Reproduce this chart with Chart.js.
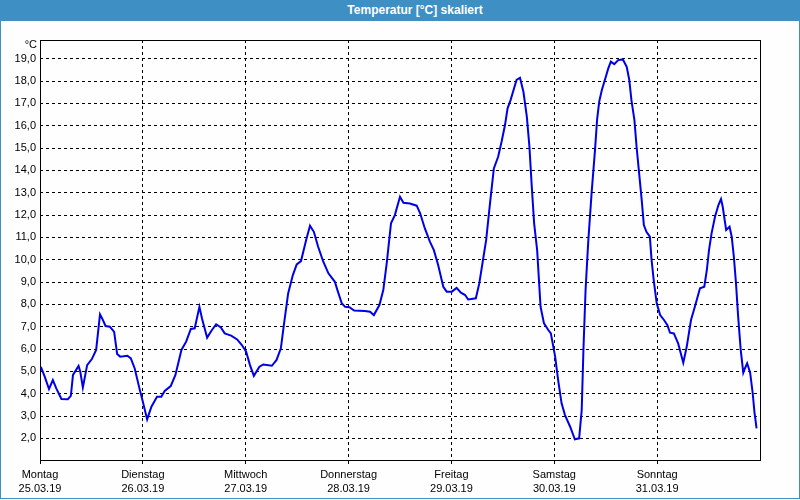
<!DOCTYPE html>
<html>
<head>
<meta charset="utf-8">
<script src="https://cdn.jsdelivr.net/npm/chart.js@4"></script>
<style>
  body { margin: 0; background: #fdfefd; }
  #wrap { position: relative; width: 800px; height: 500px; overflow: hidden; background: #fdfefd; }
  #title {
    position: absolute; left: 0; top: 0; width: 800px; height: 21px;
    background: #3d8fc4; color: #fff;
    font: bold 12px "Liberation Sans", Arial, sans-serif;
    line-height: 21px; text-align: center; box-sizing: border-box; padding-left: 30px;
  }
  #frame {
    position: absolute; left: 0; top: 0; width: 800px; height: 499px;
    box-sizing: border-box; border: 1px solid #3d8fc4; border-top: none; pointer-events: none;
  }
  #cv { position: absolute; left: 0; top: 20px; }
</style>
</head>
<body>
<div id="wrap">
  <div id="title">Temperatur [°C] skaliert</div>
  <canvas id="cv" width="800" height="480"></canvas>
  <div id="frame"></div>
</div>
<script>
// =========================
// DATA
// =========================
const dayNames = ["Montag", "Dienstag", "Mittwoch", "Donnerstag", "Freitag", "Samstag", "Sonntag"];
const dayDates = ["25.03.19", "26.03.19", "27.03.19", "28.03.19", "29.03.19", "30.03.19", "31.03.19"];
const yTicks = [2, 3, 4, 5, 6, 7, 8, 9, 10, 11, 12, 13, 14, 15, 16, 17, 18, 19];

// hours since Monday 00:00
const hours = [
    0.2, 1.1, 2.1, 3.0, 3.8, 5.0, 6.5, 7.2, 7.7, 9.0, 9.4, 10.0, 11.0, 12.1, 13.1, 14.0, 14.5, 15.3, 16.3, 17.3,
    18.0, 18.7, 20.4, 21.2, 22.1, 23.3, 24.0, 25.0, 26.0, 27.3, 28.3, 29.1, 30.5, 31.6, 33.0, 34.1, 35.2, 36.1,
    37.2, 37.8, 39.0, 40.0, 41.1, 42.2, 43.1, 44.6, 46.0, 47.1, 48.1, 49.0, 49.9, 51.2, 52.1, 54.1, 55.2, 56.2,
    56.9, 57.9, 59.0, 59.9, 60.9, 62.1, 63.0, 63.9, 64.9, 66.1, 67.3, 68.8, 69.4, 70.4, 71.2, 72.2, 73.3, 75.8,
    77.0, 77.9, 79.2, 80.1, 80.9, 81.9, 82.8, 84.0, 84.8, 86.3, 87.9, 88.7, 89.8, 91.0, 91.9, 92.9, 94.1, 94.9,
    96.1, 97.2, 98.2, 99.2, 99.9, 101.7, 102.5, 103.3, 104.1, 105.0, 105.9, 106.9, 107.7, 108.5, 109.1, 109.8,
    110.6, 111.2, 112.0, 112.8, 113.6, 114.2, 114.7, 115.3, 116.0, 116.8, 117.6, 118.6, 119.2, 120.2, 120.9,
    121.7, 122.5, 123.7, 124.8, 125.8, 126.4, 126.8, 127.3, 127.9, 128.7, 129.5, 130.0, 130.5, 131.1, 131.8,
    132.6, 133.2, 134.0, 134.9, 136.0, 136.9, 137.5, 138.0, 138.7, 139.2, 139.8, 140.4, 140.9, 141.5, 142.3,
    142.7, 143.2, 143.9, 144.7, 145.6, 146.4, 147.0, 147.9, 148.9, 150.1, 150.9, 151.9, 152.8, 154.0, 155.0,
    155.6, 156.1, 156.7, 157.5, 158.3, 158.9, 159.3, 160.1, 160.9, 161.4, 161.9, 162.4, 162.9, 163.5, 164.1,
    164.5, 165.0, 165.7, 166.3, 166.7, 167.2
];
const temps = [
    5.2, 4.76, 4.21, 4.61, 4.24, 3.76, 3.75, 3.9, 4.84, 5.24, 4.98, 4.28, 5.28, 5.55, 5.96, 7.55, 7.37, 7.03, 7.0, 6.77,
    5.78, 5.66, 5.70, 5.58, 5.13, 4.16, 3.64, 2.85, 3.42, 3.86, 3.86, 4.12, 4.34, 4.84, 5.96, 6.33, 6.90, 6.93,
    7.89, 7.37, 6.51, 6.82, 7.11, 6.97, 6.70, 6.60, 6.43, 6.18, 5.88, 5.28, 4.80, 5.21, 5.31, 5.25, 5.51, 6.03,
    7.07, 8.49, 9.31, 9.79, 9.94, 10.88, 11.52, 11.25, 10.58, 9.91, 9.39, 9.01, 8.64, 8.05, 7.89, 7.87, 7.72, 7.70,
    7.67, 7.52, 7.97, 8.64, 9.84, 11.63, 12.0, 12.82, 12.55, 12.52, 12.42, 12.08, 11.40, 10.80, 10.43, 9.76, 8.79, 8.57,
    8.57, 8.74, 8.52, 8.42, 8.22, 8.27, 8.94, 9.91, 10.88, 12.52, 14.09, 14.61, 15.28, 16.03, 16.78, 17.15,
    17.67, 18.05, 18.15, 17.52, 16.40, 15.06, 13.42, 11.63, 10.43, 7.89, 7.15, 6.85, 6.70, 5.66, 4.61,
    3.57, 3.04, 2.52, 1.96, 2.0, 3.27, 5.96, 8.64, 10.73, 12.97, 14.91, 16.3, 17.1, 17.6, 18.05,
    18.57, 18.87, 18.76, 18.94, 18.97, 18.64, 18.05, 17.15, 16.25, 15.06, 13.87, 12.67, 11.55, 11.25, 11.03,
    9.99, 9.09, 8.05, 7.52, 7.30, 7.07, 6.73, 6.70, 6.25, 5.39, 6.10, 7.30, 7.89, 8.72, 8.79,
    9.54, 10.43, 11.18, 11.92, 12.45, 12.72, 12.37, 11.33, 11.48, 11.03, 10.13, 8.94, 7.45, 5.96, 4.94,
    5.14, 5.36, 4.94, 4.02, 3.19, 2.45
];

// =========================
// PLUGINS
// =========================
const frameBox = {
    id: "frameBox",
    beforeDatasetsDraw(chart) {
        const a = chart.chartArea;
        const ctx = chart.ctx;
        ctx.save();
        ctx.strokeStyle = "#000";
        ctx.lineWidth = 1;
        ctx.strokeRect(Math.round(a.left) + 0.5, Math.round(a.top) + 0.5,
                       Math.round(a.right - a.left), Math.round(a.bottom - a.top));
        ctx.restore();
    },
    afterDraw(chart) {
        const ctx = chart.ctx;
        ctx.save();
        ctx.fillStyle = "#000";
        ctx.font = "11px 'Liberation Sans', Arial, sans-serif";
        ctx.textAlign = "right";
        ctx.textBaseline = "middle";
        ctx.fillText("°C", 37, 25);
        ctx.restore();
    }
};

Chart.defaults.font.family = "'Liberation Sans', Arial, sans-serif";
Chart.defaults.font.size = 11;
Chart.defaults.color = "#000";

new Chart(document.getElementById("cv"), {
    type: "line",
    data: {
        datasets: [{
            data: hours.map((h, i) => ({ x: h, y: temps[i] })),
            borderColor: "#0000e8",
            borderWidth: 2,
            pointRadius: 0,
            tension: 0,
            fill: false
        }]
    },
    options: {
        responsive: false,
        animation: false,
        layout: { padding: { left: 0, right: 40, top: 20, bottom: 0 } },
        plugins: { legend: { display: false }, tooltip: { enabled: false } },
        scales: {
            x: {
                type: "linear",
                min: 0,
                max: 168,
                afterBuildTicks: s => { s.ticks = [0, 24, 48, 72, 96, 120, 144].map(v => ({ value: v })); },
                afterFit: s => { s.height = 40; },
                border: { display: false, dash: [3, 3] },
                grid: {
                    color: "#000",
                    lineWidth: 1,
                    tickLength: 4,
                    tickColor: "#000",
                    tickBorderDash: []
                },
                ticks: {
                    maxRotation: 0,
                    padding: 4,
                    font: { size: 11, lineHeight: 1.3 },
                    callback: v => [dayNames[v / 24], dayDates[v / 24]]
                }
            },
            y: {
                min: 1.03,
                max: 19.84,
                afterBuildTicks: s => { s.ticks = yTicks.map(v => ({ value: v })); },
                afterFit: s => { s.width = 40; },
                border: { display: false, dash: [3, 3] },
                grid: {
                    color: "#000",
                    lineWidth: 1,
                    drawTicks: false
                },
                ticks: {
                    padding: 4,
                    callback: v => v.toFixed(1).replace(".", ",")
                }
            }
        }
    },
    plugins: [frameBox]
});
</script>
</body>
</html>
